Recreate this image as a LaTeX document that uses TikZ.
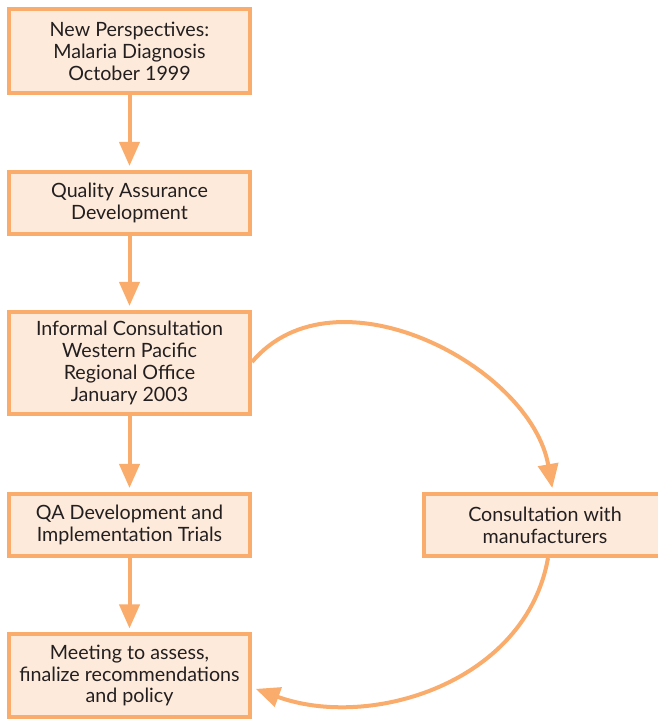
\documentclass[tikz,border=0pt]{standalone}
\usepackage{fontspec}
\setmainfont{Lato}
\usetikzlibrary{calc,arrows.meta}
\definecolor{edge}{RGB}{250,172,108}
\definecolor{fillc}{RGB}{253,234,218}
\definecolor{txt}{RGB}{35,31,32}
\tikzset{ bx/.style = { rectangle
                      , draw = edge
                      , fill = fillc
                      , line width = 0.1cm
                      , text = txt
                      , align = center
                      , minimum width = 6.025cm
                      , inner sep = 0pt
                      },
          ar/.style = { draw = edge
          , line width = 0.1cm
          , -{Triangle[width=0.5cm, length=0.6cm]}
          , shorten > = 0.1cm
          }
        }

\begin{document}
\begin{tikzpicture}[x=0.025cm, y=0.025cm, font=\fontsize{14}{15.6}\selectfont]
          \useasboundingbox (0,-720) rectangle (657,0);
          \node[bx, minimum height=2.1cm]  (s1) at (129.5,-51)  {New Perspectives:\\Malaria Diagnosis\\October 1999};
          \node[bx, minimum height=1.55cm] (s2) at (129.5,-203) {Quality Assurance\\Development};
          \node[bx, minimum height=2.55cm] (s3) at (129.5,-363) {Informal Consultation\\Western Pacific\\Regional Office\\January 2003};
          \node[bx, minimum height=1.55cm] (s4) at (129.5,-525) {QA Development and\\Implementation Trials};
          \node[bx, minimum height=2.05cm] (s5) at (129.5,-675.5) {Meeting to assess,\\finalize recommendations\\and policy};
          \node[bx, minimum height=1.55cm] (c1) at (545,-525)   {Consultation with\\manufacturers};
          \foreach \a/\b in {s1/s2, s2/s3, s3/s4, s4/s5} {
            \draw[ar] (\a) -- (\b);
          }
          \draw[ar] ($(s3.east)+(0,1)$) to[out=50, in=100] ($(c1.north)+(8,0)$);
          \draw[ar] ($(c1.south)+(3,0)$) to[out=-100, in=-20] ($(s5.east)+(0,-12)$);
\end{tikzpicture}
\end{document}
